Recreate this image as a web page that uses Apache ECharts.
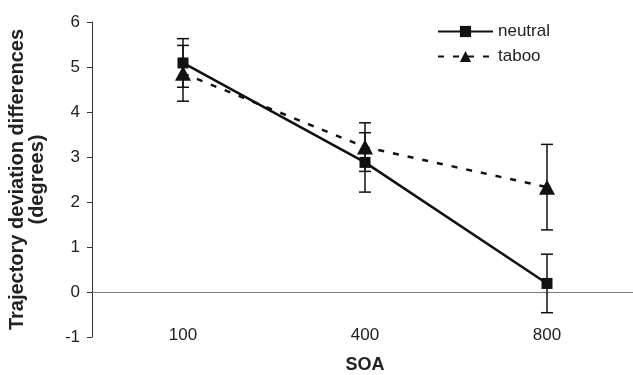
<!DOCTYPE html>
<html>
<head>
<meta charset="utf-8">
<script src="https://cdn.jsdelivr.net/npm/echarts@6/dist/echarts.min.js"></script>
<style>html,body{margin:0;padding:0;background:#fff;}#c{width:633px;height:375px;}</style>
</head>
<body>
<div id="c"></div>
<script>
var categories = ['100', '400', '800'];
var neutral = [5.09, 2.88, 0.19];
var neutralErr = [0.54, 0.66, 0.65];
var taboo = [4.86, 3.22, 2.33];
var tabooErr = [0.62, 0.54, 0.95];

function errData(vals, errs) {
  return vals.map(function (v, i) { return [i, v - errs[i], v + errs[i]]; });
}
function renderErr(params, api) {
  var x = api.value(0);
  var lo = api.coord([x, api.value(1)]);
  var hi = api.coord([x, api.value(2)]);
  var hw = 6;
  var st = { stroke: '#111', lineWidth: 1.5 };
  return {
    type: 'group',
    children: [
      { type: 'line', shape: { x1: hi[0], y1: hi[1], x2: lo[0], y2: lo[1] }, style: st },
      { type: 'line', shape: { x1: hi[0] - hw, y1: hi[1], x2: hi[0] + hw, y2: hi[1] }, style: st },
      { type: 'line', shape: { x1: lo[0] - hw, y1: lo[1], x2: lo[0] + hw, y2: lo[1] }, style: st }
    ]
  };
}

var chart = echarts.init(document.getElementById('c'));
chart.setOption({
  animation: false,
  backgroundColor: '#fff',
  grid: { left: 92, right: -5, top: 22, bottom: 38, containLabel: false, outerBoundsMode: 'none' },
  legend: {
    orient: 'vertical', left: 432, top: 18, itemWidth: 55, itemHeight: 14, itemGap: 8,
    data: ['neutral', 'taboo'],
    textStyle: { fontFamily: 'Liberation Sans', fontSize: 17, color: '#222' }
  },
  xAxis: {
    type: 'category', data: categories, boundaryGap: true,
    axisLine: { onZero: true, lineStyle: { color: '#7a7a7a', width: 1 } },
    axisTick: { show: false },
    axisLabel: { margin: -10, fontFamily: 'Liberation Sans', fontSize: 17, color: '#222' },
    name: 'SOA', nameLocation: 'middle', nameGap: 19,
    nameTextStyle: { fontFamily: 'Liberation Sans', fontSize: 18, fontWeight: 'bold', color: '#222' }
  },
  yAxis: {
    type: 'value', min: -1, max: 6, interval: 1,
    splitLine: { show: false },
    axisLine: { show: true, lineStyle: { color: '#333', width: 1 } },
    axisTick: { show: true, length: 5, lineStyle: { color: '#333' } },
    axisLabel: { margin: 12, fontFamily: 'Liberation Sans', fontSize: 17, color: '#222' },
    name: 'Trajectory deviation differences\n(degrees)', nameLocation: 'middle', nameGap: 45,
    nameTextStyle: { fontFamily: 'Liberation Sans', fontSize: 20, fontWeight: 'bold', color: '#222', lineHeight: 20 }
  },
  series: [
    {
      type: 'custom', name: 'errN', renderItem: renderErr, data: errData(neutral, neutralErr),
      encode: { x: 0, y: [1, 2] }, z: 1, silent: true
    },
    {
      type: 'custom', name: 'errT', renderItem: renderErr, data: errData(taboo, tabooErr),
      encode: { x: 0, y: [1, 2] }, z: 1, silent: true
    },
    {
      name: 'neutral', type: 'line', data: neutral, symbol: 'rect', symbolSize: 11,
      lineStyle: { color: '#111', width: 2.5 }, itemStyle: { color: '#111' }, z: 3
    },
    {
      name: 'taboo', type: 'line', data: taboo, symbol: 'triangle', symbolSize: [16, 15],
      lineStyle: { color: '#111', width: 2.5, type: [6, 9] }, itemStyle: { color: '#111' }, z: 4
    }
  ]
});
</script>
</body>
</html>
